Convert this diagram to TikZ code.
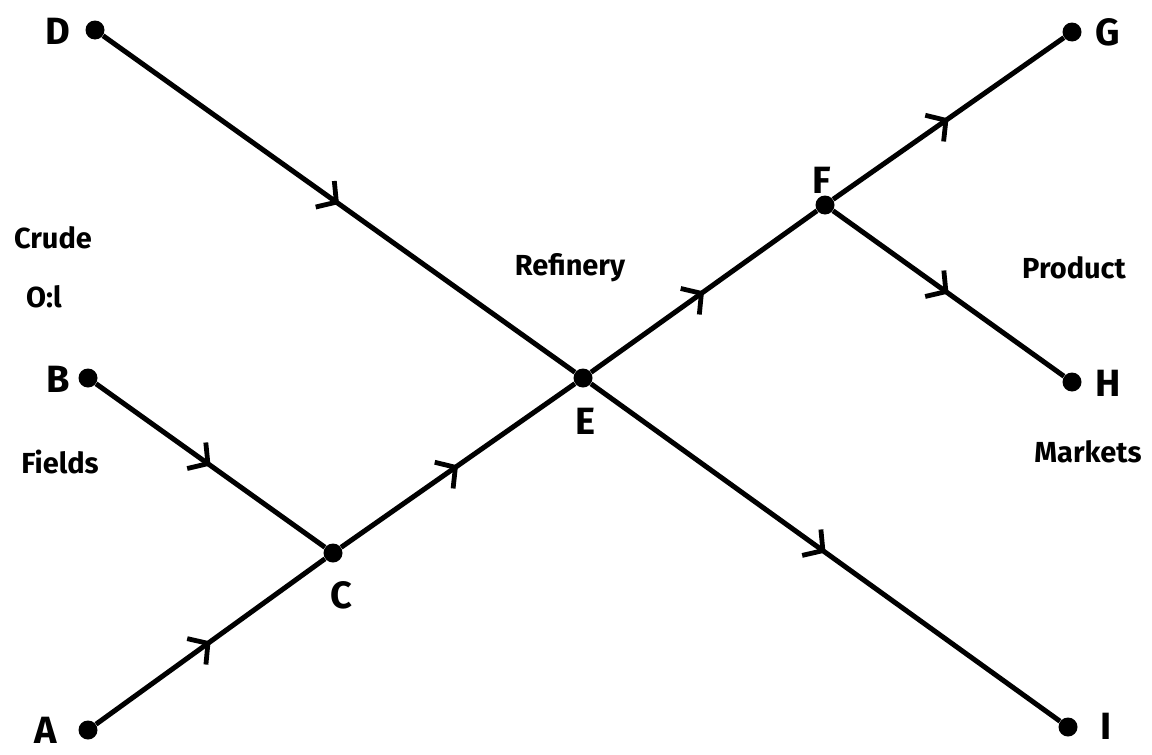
\documentclass[tikz,border=0pt]{standalone}
\usepackage{fontspec}
\setmainfont{Fira Sans}
\usetikzlibrary{arrows.meta,decorations.markings}
\begin{document}
\begin{tikzpicture}[x=0.5pt,y=-0.5pt,
  dot/.style={circle,fill=black,inner sep=0pt,minimum size=9.5pt},
  flow/.style={line width=2.5pt,
    postaction={decorate,decoration={markings,
      mark=at position 0.5 with {\arrow[line width=2.4pt]{Straight Barb[length=7pt,width=16pt]}}}}},
  letter/.style={font=\fontsize{19}{22}\bfseries\selectfont,inner sep=1pt},
  word/.style={font=\fontsize{14.5}{17}\bfseries\selectfont}]
\useasboundingbox (0,0) rectangle (1152,755);
\node[dot] (D) at (95,30) {};
\node[dot] (B) at (88,378) {};
\node[dot] (A) at (88,730) {};
\node[dot] (C) at (333,553) {};
\node[dot] (E) at (583,378) {};
\node[dot] (F) at (825,205) {};
\node[dot] (G) at (1072,32) {};
\node[dot] (H) at (1072,382) {};
\node[dot] (I) at (1068,727) {};
\draw[flow] (D) -- (E);
\draw[flow] (B) -- (C);
\draw[flow] (A) -- (C);
\draw[flow] (C) -- (E);
\draw[flow] (E) -- (F);
\draw[flow] (F) -- (G);
\draw[flow] (F) -- (H);
\draw[flow] (E) -- (I);
\node[letter] (lD) at (58,31) {D};
\node[letter] (lB) at (58,379) {B};
\node[letter] (lA) at (46,730) {A};
\node[letter] (lC) at (341,595) {C};
\node[letter] (lE) at (585,421) {E};
\node[letter] (lF) at (822,180) {F};
\node[letter] (lG) at (1108,32) {G};
\node[letter] (lH) at (1108,383) {H};
\node[letter] (lI) at (1106,726) {I};
\node[word] (crude) at (53,238) {Crude};
\node[word] (oil) at (44,297) {O:l};
\node[word] (fields) at (60,462) {Fields};
\node[word] (refinery) at (570,268) {Refinery};
\node[word] (product) at (1074,268) {Product};
\node[word] (markets) at (1088,452) {Markets};
\end{tikzpicture}
\end{document}
